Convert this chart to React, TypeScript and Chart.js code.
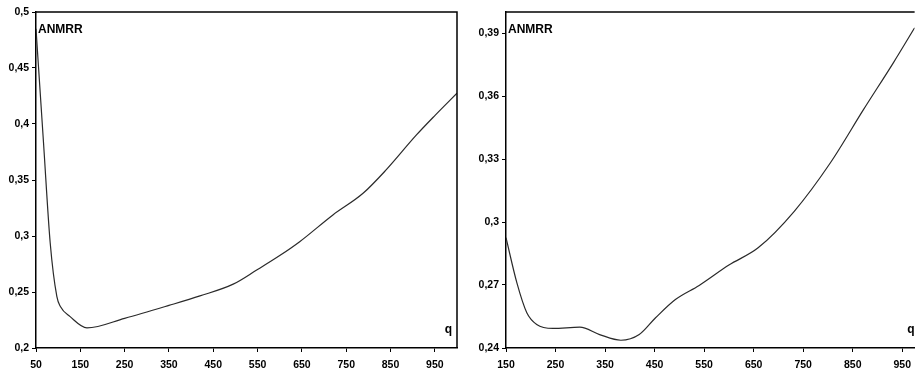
import React, { useEffect, useRef } from 'react';
import { Chart, registerables } from 'chart.js';

Chart.register(...registerables);

// Left panel data
const leftQ = [50, 67, 82, 97, 105, 127, 165, 250, 350, 420, 495, 548, 600, 645, 720, 788, 840, 908, 950, 1000];
const leftAnmrr = [0.485, 0.383, 0.294, 0.246, 0.237, 0.228, 0.218, 0.2265, 0.238, 0.2465, 0.257, 0.2696, 0.2825, 0.2949, 0.3188, 0.3381, 0.359, 0.39, 0.4075, 0.4275];
const leftXTicks = [50, 150, 250, 350, 450, 550, 650, 750, 850, 950];
const leftYTicks = [0.2, 0.25, 0.3, 0.35, 0.4, 0.45, 0.5];

// Right panel data
const rightQ = [150, 172, 192, 212, 245, 299, 339, 382, 419, 452, 492, 540, 600, 659, 732, 805, 872, 932, 975];
const rightAnmrr = [0.2925, 0.271, 0.2568, 0.2512, 0.2493, 0.2499, 0.2464, 0.2437, 0.2464, 0.2544, 0.2631, 0.2698, 0.2795, 0.2877, 0.3051, 0.3282, 0.3536, 0.3758, 0.3925];
const rightXTicks = [150, 250, 350, 450, 550, 650, 750, 850, 950];
const rightYTicks = [0.24, 0.27, 0.3, 0.33, 0.36, 0.39];

const FONT = 'Arial, "Liberation Sans", sans-serif';

const fmt = (v: number) => String(parseFloat(v.toFixed(3))).replace('.', ',');

type PanelProps = {
  q: number[];
  vals: number[];
  xTicks: number[];
  yTicks: number[];
  xMin: number;
  xMax: number;
  yMin: number;
  yMax: number;
  width: number;
  left: number;
  yAxisWidth: number;
  padRight: number;
  drawRight: boolean;
  qOffset: number;
};

function Panel(p: PanelProps) {
  const ref = useRef<HTMLCanvasElement>(null);
  useEffect(() => {
    if (!ref.current) return;
    const framePlugin = {
      id: 'frame',
      afterDraw(chart: any) {
        const { ctx, chartArea } = chart;
        const { left, right, top, bottom } = chartArea;
        ctx.save();
        ctx.strokeStyle = '#000';
        ctx.lineWidth = 1.5;
        ctx.beginPath();
        ctx.moveTo(left, top);
        ctx.lineTo(right, top);
        if (p.drawRight) {
          ctx.lineTo(right, bottom);
        }
        ctx.stroke();
        ctx.fillStyle = '#000';
        ctx.font = `bold 12px ${FONT}`;
        ctx.textAlign = 'left';
        ctx.textBaseline = 'alphabetic';
        ctx.fillText('ANMRR', left + 2, top + 21);
        ctx.textAlign = 'right';
        ctx.fillText('q', right - p.qOffset, bottom - 15);
        ctx.restore();
      },
    };
    const chart = new Chart(ref.current, {
      type: 'line',
      data: {
        datasets: [
          {
            data: p.q.map((x, i) => ({ x, y: p.vals[i] })),
            borderColor: '#2a2a2a',
            borderWidth: 1.2,
            pointRadius: 0,
            cubicInterpolationMode: 'monotone',
            fill: false,
          },
        ],
      },
      options: {
        animation: false,
        responsive: false,
        events: [],
        layout: { padding: { top: 12, right: p.padRight, left: 0, bottom: 0 } },
        plugins: { legend: { display: false }, tooltip: { enabled: false } },
        scales: {
          x: {
            type: 'linear',
            min: p.xMin,
            max: p.xMax,
            afterBuildTicks: (scale: any) => {
              scale.ticks = p.xTicks.map((v) => ({ value: v }));
            },
            afterFit: (scale: any) => {
              scale.height = 23;
            },
            ticks: {
              color: '#000',
              font: { family: FONT, size: 10.5, weight: 'bold' },
              padding: 7,
              maxRotation: 0,
              autoSkip: false,
              callback: (v: any) => String(v),
            },
            grid: { drawOnChartArea: false, tickLength: 4, color: '#000', lineWidth: 1 },
            border: { color: '#000', width: 1.5 },
          },
          y: {
            type: 'linear',
            min: p.yMin,
            max: p.yMax,
            afterBuildTicks: (scale: any) => {
              scale.ticks = p.yTicks.map((v) => ({ value: v }));
            },
            afterFit: (scale: any) => {
              scale.width = p.yAxisWidth;
            },
            ticks: {
              color: '#000',
              font: { family: FONT, size: 10.5, weight: 'bold' },
              padding: 3,
              autoSkip: false,
              callback: (v: any) => fmt(Number(v)),
            },
            grid: { drawOnChartArea: false, tickLength: 4, color: '#000', lineWidth: 1 },
            border: { color: '#000', width: 1.5 },
          },
        },
      } as any,
      plugins: [framePlugin],
    });
    return () => chart.destroy();
  }, []);
  return (
    <canvas
      ref={ref}
      width={p.width}
      height={371}
      style={{ position: 'absolute', left: p.left, top: 0, width: p.width, height: 371, display: 'block' }}
    />
  );
}

export default function App() {
  return (
    <div style={{ position: 'fixed', left: 0, top: 0, width: 918, height: 371, overflow: 'hidden', background: '#fff' }}>
      <Panel
        q={leftQ}
        vals={leftAnmrr}
        xTicks={leftXTicks}
        yTicks={leftYTicks}
        xMin={50}
        xMax={1000}
        yMin={0.2}
        yMax={0.5}
        width={460}
        left={0}
        yAxisWidth={36}
        padRight={3}
        drawRight={true}
        qOffset={5}
      />
      <Panel
        q={rightQ}
        vals={rightAnmrr}
        xTicks={rightXTicks}
        yTicks={rightYTicks}
        xMin={150}
        xMax={975}
        yMin={0.24}
        yMax={0.4}
        width={458}
        left={460}
        yAxisWidth={46}
        padRight={0}
        drawRight={false}
        qOffset={0}
      />
    </div>
  );
}
